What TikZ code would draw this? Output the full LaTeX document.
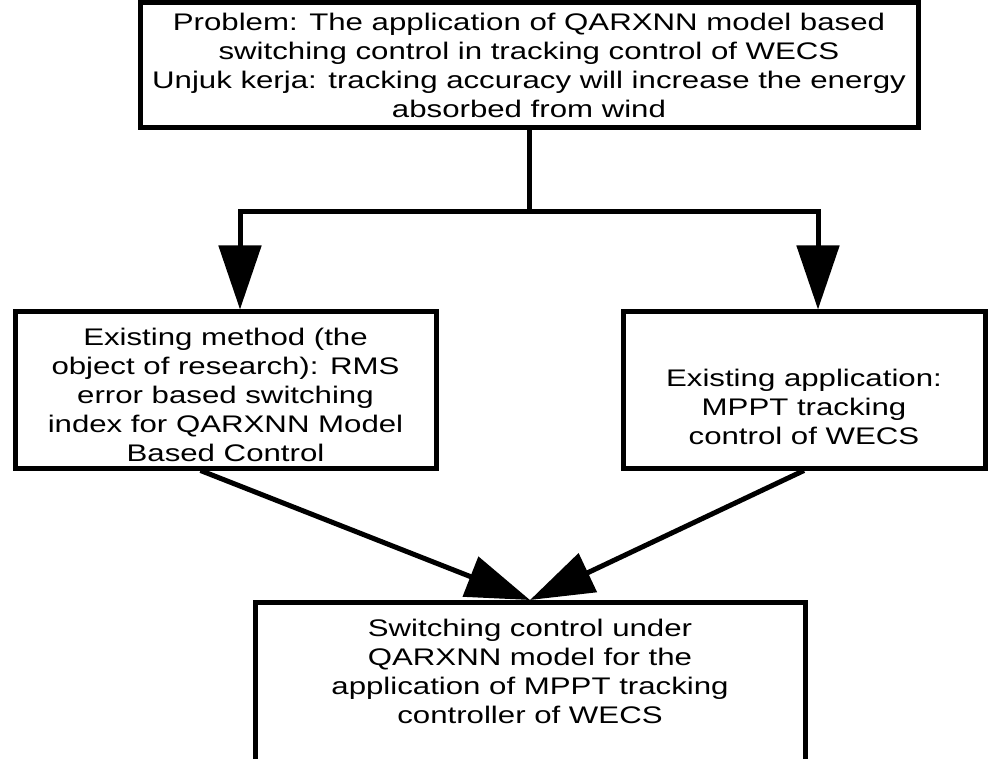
\documentclass[tikz,border=0pt]{standalone}
\usepackage{fontspec}
\setmainfont{Liberation Sans}[FakeStretch=1.3]
\usetikzlibrary{arrows.meta,positioning}
\tikzstyle{frame} = [draw,line width=5pt,rectangle,inner sep=0]
\tikzstyle{label} = [align=center,inner sep=0,font=\fontsize{24}{29}\selectfont]
\tikzstyle{wire} = [-,line width=5pt]
\tikzstyle{flow} = [line width=5pt,-{Triangle[length=64pt,width=42pt]}]
\def \lift {25pt}

\begin{document}
\begin{tikzpicture}[x=1pt,y=-1pt]
  \useasboundingbox (0,0) rectangle (1002,759);
  % boxes
  \node[frame,minimum width=778pt,minimum height=125pt] (prob) at (529,65) {};
  \node[frame,minimum width=421pt,minimum height=156pt] (meth) at (225.5,390) {};
  \node[frame,minimum width=362pt,minimum height=156pt] (app) at (804,390) {};
  \node[frame,minimum width=550pt,minimum height=190pt,anchor=north] (sol) at (530,600) {};
  % texts
  \node[label] (probtext) at (prob) {Problem: The application of QARXNN model based\\switching control in tracking control of WECS\\Unjuk kerja: tracking accuracy will increase the energy\\absorbed from wind};
  \node[label] (methtext) at (225.5,395) {Existing method (the\\object of research): RMS\\error based switching\\index for QARXNN Model\\Based Control};
  \node[label] (apptext) at (804,407) {Existing application:\\MPPT tracking\\control of WECS};
  \node[label] (soltext) at (530,671) {Switching control under\\QARXNN model for the\\application of MPPT tracking\\controller of WECS};
  % fork
  \coordinate (fork) at (529,212);
  \coordinate (forkl) at (240,212);
  \coordinate (forkr) at (818,212);
  \draw[wire] (prob.south) -- (fork);
  \draw[flow] (fork) -- (forkl) -- (forkl |- meth.north);
  \draw[flow] (fork) -- (forkr) -- (forkr |- app.north);
  % merge
  \draw[flow] ([xshift=-\lift]meth.south) -- (sol.north);
  \draw[flow] (app.south) -- (sol.north);
\end{tikzpicture}
\end{document}
